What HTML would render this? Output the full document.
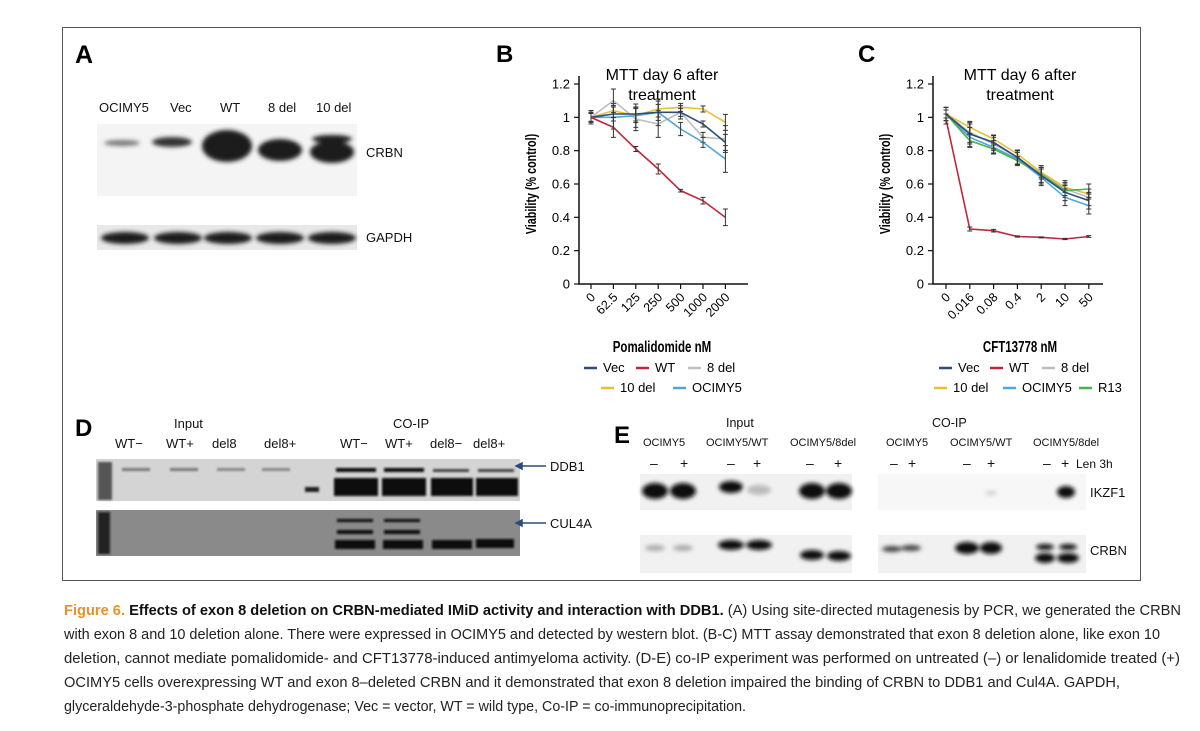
<!DOCTYPE html>
<html><head><meta charset="utf-8"><style>
html,body{margin:0;padding:0;background:#fff;width:1200px;height:731px;overflow:hidden}
svg{display:block;font-family:"Liberation Sans",sans-serif}
</style></head><body>
<svg id="fig" width="1200" height="731" viewBox="0 0 1200 731">
<defs>
<filter id="bl" x="-20%" y="-50%" width="140%" height="200%"><feGaussianBlur stdDeviation="2"/></filter>
<filter id="bl1" x="-20%" y="-50%" width="140%" height="200%"><feGaussianBlur stdDeviation="1"/></filter>
</defs>
<rect x="62.5" y="27.5" width="1078" height="553" fill="none" stroke="#555" stroke-width="1"/>

<!-- Panel A -->
<g>
<text x="75" y="63" font-size="25" font-weight="bold">A</text>
<g font-size="13" fill="#111">
<text x="99" y="112">OCIMY5</text><text x="170" y="112">Vec</text><text x="220" y="112">WT</text><text x="268" y="112">8 del</text><text x="316" y="112">10 del</text>
<text x="366" y="157">CRBN</text><text x="366" y="242">GAPDH</text></g>
<rect x="97" y="124" width="260" height="72" fill="#f4f4f4"/>
<g fill="#1a1a1a" filter="url(#bl)">
<ellipse cx="122" cy="143" rx="18" ry="3" fill="#777"/>
<ellipse cx="172" cy="142" rx="20" ry="5" fill="#333"/>
<ellipse cx="227" cy="146" rx="25" ry="16"/>
<ellipse cx="280" cy="150" rx="22" ry="11"/>
<ellipse cx="332" cy="152" rx="22" ry="11"/>
<ellipse cx="332" cy="139" rx="20" ry="4"/>
</g>
<rect x="97" y="225" width="260" height="25" fill="#e8e8e8"/>
<g fill="#1a1a1a" filter="url(#bl)">
<ellipse cx="125" cy="238" rx="24" ry="6"/><ellipse cx="178" cy="238" rx="24" ry="6"/><ellipse cx="228" cy="238" rx="24" ry="6"/><ellipse cx="280" cy="238" rx="24" ry="6"/><ellipse cx="332" cy="238" rx="24" ry="6"/>
</g>
</g>

<!-- Panel B -->
<text x="496" y="62" font-size="24" font-weight="bold">B</text>
<g id="chartB"></g>
<!-- Panel C -->
<text x="858" y="62" font-size="24" font-weight="bold">C</text>
<g id="chartC"></g>

<!-- Panel D -->
<g>
<text x="75" y="436" font-size="24" font-weight="bold">D</text>
<g font-size="13" fill="#111">
<text x="174" y="428">Input</text><text x="393" y="428">CO-IP</text>
<text x="115" y="448">WT−</text><text x="166" y="448">WT+</text><text x="212" y="448">del8</text><text x="264" y="448">del8+</text>
<text x="340" y="448">WT−</text><text x="385" y="448">WT+</text><text x="430" y="448">del8−</text><text x="473" y="448">del8+</text>
<text x="550" y="471">DDB1</text><text x="550" y="528">CUL4A</text></g>
<rect x="96" y="459" width="424" height="42" fill="#d4d4d4"/>
<rect x="96" y="510" width="424" height="46" fill="#8a8a8a"/>
<g fill="#111" filter="url(#bl1)">
<rect x="98" y="462" width="14" height="38" fill="#555"/>
<rect x="98" y="512" width="12" height="42" fill="#222"/>
<rect x="122" y="468" width="28" height="3" fill="#777"/><rect x="170" y="468" width="28" height="3" fill="#777"/><rect x="217" y="468" width="28" height="3" fill="#888"/><rect x="262" y="468" width="28" height="3" fill="#888"/>
<rect x="305" y="487" width="14" height="5" fill="#222"/>
<rect x="336" y="468" width="40" height="4"/><rect x="384" y="468" width="40" height="4"/><rect x="433" y="469" width="36" height="3" fill="#444"/><rect x="478" y="469" width="36" height="3" fill="#444"/>
<rect x="334" y="478" width="44" height="18"/><rect x="382" y="478" width="44" height="18"/><rect x="431" y="478" width="42" height="18"/><rect x="476" y="478" width="42" height="18"/>
<rect x="337" y="519" width="36" height="3"/><rect x="384" y="519" width="36" height="3"/>
<rect x="337" y="530" width="36" height="4"/><rect x="384" y="530" width="36" height="4"/>
<rect x="335" y="540" width="40" height="9"/><rect x="383" y="540" width="40" height="9"/><rect x="432" y="540" width="40" height="9"/><rect x="476" y="539" width="38" height="9"/>
</g>
<g stroke="#2a4d7a" stroke-width="1.5" fill="#2a4d7a"><line x1="520" y1="466" x2="546" y2="466"/><line x1="520" y1="523" x2="546" y2="523"/>
<polygon points="516,466 522,463 522,469"/><polygon points="516,523 522,520 522,526"/></g>
</g>

<!-- Panel E -->
<g>
<text x="614" y="443" font-size="24" font-weight="bold">E</text>
<g font-size="12.5" fill="#111">
<text x="726" y="427">Input</text><text x="932" y="427">CO-IP</text></g>
<g font-size="11" fill="#111">
<text x="643" y="446">OCIMY5</text><text x="706" y="446">OCIMY5/WT</text><text x="790" y="446">OCIMY5/8del</text>
<text x="886" y="446">OCIMY5</text><text x="950" y="446">OCIMY5/WT</text><text x="1033" y="446">OCIMY5/8del</text></g>
<g font-size="14" fill="#111">
<text x="650" y="468">–</text><text x="680" y="468">+</text><text x="727" y="468">–</text><text x="753" y="468">+</text><text x="806" y="468">–</text><text x="834" y="468">+</text>
<text x="890" y="468">–</text><text x="908" y="468">+</text><text x="963" y="468">–</text><text x="987" y="468">+</text><text x="1043" y="468">–</text><text x="1061" y="468">+</text>
<text x="1076" y="468" font-size="12">Len 3h</text>
<text x="1090" y="497" font-size="13">IKZF1</text><text x="1090" y="555" font-size="13">CRBN</text></g>
<rect x="640" y="474" width="212" height="36" fill="#f1f1f1"/><rect x="878" y="474" width="208" height="36" fill="#f7f7f7"/>
<rect x="640" y="535" width="212" height="38" fill="#f1f1f1"/><rect x="878" y="535" width="208" height="38" fill="#f1f1f1"/>
<g fill="#111" filter="url(#bl)">
<ellipse cx="655" cy="491" rx="13" ry="8"/><ellipse cx="683" cy="491" rx="13" ry="8"/>
<ellipse cx="731" cy="487" rx="12" ry="6"/><ellipse cx="759" cy="490" rx="12" ry="5" fill="#bbb"/>
<ellipse cx="812" cy="491" rx="13" ry="8"/><ellipse cx="839" cy="491" rx="13" ry="8"/>
<ellipse cx="991" cy="493" rx="6" ry="2" fill="#ccc"/><ellipse cx="1066" cy="492" rx="9" ry="6"/>
<ellipse cx="655" cy="548" rx="10" ry="3" fill="#aaa"/><ellipse cx="683" cy="548" rx="10" ry="3" fill="#aaa"/>
<ellipse cx="731" cy="545" rx="13" ry="5"/><ellipse cx="759" cy="545" rx="13" ry="5"/>
<ellipse cx="812" cy="555" rx="12" ry="5"/><ellipse cx="839" cy="556" rx="12" ry="5"/>
<ellipse cx="892" cy="549" rx="10" ry="3" fill="#444"/><ellipse cx="911" cy="548" rx="10" ry="3" fill="#444"/>
<ellipse cx="967" cy="548" rx="12" ry="6"/><ellipse cx="991" cy="548" rx="11" ry="6"/>
<ellipse cx="1045" cy="558" rx="10" ry="5"/><ellipse cx="1068" cy="558" rx="11" ry="5"/>
<ellipse cx="1045" cy="547" rx="9" ry="3"/><ellipse cx="1068" cy="547" rx="9" ry="3"/>
</g>
</g>

<!-- Caption -->
<g font-size="15" fill="#222">
<text x="64" y="615" textLength="1117" lengthAdjust="spacingAndGlyphs"><tspan fill="#e8912a" font-weight="bold">Figure 6.</tspan><tspan font-weight="bold" fill="#111"> Effects of exon 8 deletion on CRBN-mediated IMiD activity and interaction with DDB1.</tspan> (A) Using site-directed mutagenesis by PCR, we generated the CRBN</text>
<text x="64" y="639" textLength="1096" lengthAdjust="spacingAndGlyphs">with exon 8 and 10 deletion alone. There were expressed in OCIMY5 and detected by western blot. (B-C) MTT assay demonstrated that exon 8 deletion alone, like exon 10</text>
<text x="64" y="663" textLength="1116" lengthAdjust="spacingAndGlyphs">deletion, cannot mediate pomalidomide- and CFT13778-induced antimyeloma activity. (D-E) co-IP experiment was performed on untreated (–) or lenalidomide treated (+)</text>
<text x="64" y="687" textLength="1056" lengthAdjust="spacingAndGlyphs">OCIMY5 cells overexpressing WT and exon 8–deleted CRBN and it demonstrated that exon 8 deletion impaired the binding of CRBN to DDB1 and Cul4A. GAPDH,</text>
<text x="64" y="711" textLength="682" lengthAdjust="spacingAndGlyphs">glyceraldehyde-3-phosphate dehydrogenase; Vec = vector, WT = wild type, Co-IP = co-immunoprecipitation.</text>
</g>
</svg>
<script>
const yTicks = [0, 0.2, 0.4, 0.6, 0.8, 1, 1.2];
const yTickLabels = ["0", "0.2", "0.4", "0.6", "0.8", "1", "1.2"];
const catsB = ["0", "62.5", "125", "250", "500", "1000", "2000"];
const catsC = ["0", "0.016", "0.08", "0.4", "2", "10", "50"];
const seriesNamesB = ["Vec", "WT", "8 del", "10 del", "OCIMY5"];
const seriesNamesC = ["Vec", "WT", "8 del", "10 del", "OCIMY5", "R13"];
const bVec = [1.0, 1.02, 1.02, 1.03, 1.03, 0.96, 0.85];
const bWT = [1.0, 0.94, 0.81, 0.69, 0.56, 0.50, 0.40];
const b8del = [1.0, 1.10, 0.99, 0.96, 1.03, 0.88, 0.87];
const b10del = [1.0, 1.04, 1.01, 1.05, 1.06, 1.05, 0.97];
const bOCI = [1.0, 1.0, 1.01, 1.03, 0.93, 0.85, 0.75];
const bErr = [0.04, 0.07, 0.07, 0.08, 0.04, 0.03, 0.08];
const bErrWT = [0.03, 0.06, 0.015, 0.03, 0.008, 0.02, 0.05];
const cVec = [1.02, 0.90, 0.85, 0.76, 0.65, 0.55, 0.50];
const cWT = [0.99, 0.33, 0.32, 0.285, 0.28, 0.27, 0.285];
const c8del = [1.02, 0.91, 0.84, 0.76, 0.66, 0.57, 0.52];
const c10del = [1.02, 0.94, 0.87, 0.78, 0.67, 0.58, 0.54];
const cOCI = [1.02, 0.88, 0.82, 0.75, 0.64, 0.52, 0.47];
const cR13 = [1.02, 0.86, 0.81, 0.74, 0.66, 0.56, 0.57];
const cErr = [0.04, 0.06, 0.04, 0.04, 0.05, 0.05, 0.05];
const cErrWT = [0.03, 0.012, 0.008, 0.004, 0.003, 0.004, 0.005];

const NS = "http://www.w3.org/2000/svg";
const colors = {"Vec":"#2a4d7a","WT":"#c0273a","8 del":"#bdbdbd","10 del":"#e8c038","OCIMY5":"#4fa8d8","R13":"#4caf50"};
function mk(tag, attrs, parent, text){
  const e = document.createElementNS(NS, tag);
  for (const k in attrs) e.setAttribute(k, attrs[k]);
  if (text !== undefined) e.textContent = text;
  parent.appendChild(e); return e;
}
function draw(g, o){
  const yS = v => o.y0 - v * (o.y0 - o.y12) / 1.2;
  const xS = i => o.xFirst + i * o.step;
  mk("text",{x:o.titleX,y:80,"font-size":16,"text-anchor":"middle"},g,"MTT day 6 after");
  mk("text",{x:o.titleX,y:100,"font-size":16,"text-anchor":"middle"},g,"treatment");
  const ax = mk("path",{d:`M${o.ax} ${o.y12-8} V${o.y0} H${o.axEnd}`,stroke:"#111","stroke-width":1.5,fill:"none"},g);
  
  
  yTicks.forEach((t,i)=>{
    mk("line",{x1:o.ax-5,x2:o.ax,y1:yS(t),y2:yS(t),stroke:"#111","stroke-width":1.2},g);
    const l = mk("text",{x:o.ax-9,y:yS(t)+4.5,"font-size":13,"text-anchor":"end"},g,yTickLabels[i]);
    
    
  });
  o.cats.forEach((c,i)=>{
    mk("line",{x1:xS(i),x2:xS(i),y1:o.y0,y2:o.y0+5,stroke:"#111","stroke-width":1.2},g);
    const l = mk("text",{x:xS(i)+5,y:o.y0+14,"font-size":12.5,"text-anchor":"end",transform:`rotate(-45 ${xS(i)+5} ${o.y0+14})`},g,c);
    
    
  });
  const yt = mk("text",{x:0,y:0,"font-size":15,"font-weight":"bold","text-anchor":"middle",transform:`translate(${o.ax-43} ${yS(0.6)}) rotate(-90) scale(0.72 1)`},g,"Viability (% control)");
  
  
  const xt = mk("text",{x:0,y:0,"font-size":16,"font-weight":"bold","text-anchor":"middle",transform:`translate(${o.titleX} 352) scale(0.72 1)`},g,o.xTitle);
  
  
  o.series.forEach((s,k)=>{
    const col = colors[o.names[k]];
    const p = mk("polyline",{points:s.map((v,i)=>xS(i)+","+yS(v)).join(" "),fill:"none",stroke:col,"stroke-width":1.6},g);
    
    
    const errs = o.names[k]==="WT" ? o.errWT : o.err;
    s.forEach((v,i)=>{
      const e = errs[i] * (o.names[k]==="WT" ? 1 : (k%2 ? 0.6 : 1));
      mk("path",{d:`M${xS(i)} ${yS(v+e)} V${yS(v-e)} M${xS(i)-2.5} ${yS(v+e)} h5 M${xS(i)-2.5} ${yS(v-e)} h5`,stroke:"#333","stroke-width":1,fill:"none"},g);
    });
  });
  o.legend.forEach((L)=>{
    mk("line",{x1:L[0],x2:L[0]+13,y1:L[1]-4,y2:L[1]-4,stroke:colors[L[2]],"stroke-width":2.5},g);
    const t = mk("text",{x:L[0]+19,y:L[1],"font-size":13},g,L[2]);
    
    
  });
}
draw(document.getElementById("chartB"),{ax:579,axEnd:748,y0:284,y12:84,xFirst:591,step:22.4,titleX:662,cats:catsB,xTitle:"Pomalidomide nM",
  series:[b8del,b10del,bOCI,bVec,bWT],names:["8 del","10 del","OCIMY5","Vec","WT"],err:bErr,errWT:bErrWT,
  legend:[[584,372,"Vec"],[636,372,"WT"],[688,372,"8 del"],[601,392,"10 del"],[673,392,"OCIMY5"]]});
draw(document.getElementById("chartC"),{ax:933,axEnd:1103,y0:284,y12:84,xFirst:946,step:23.8,titleX:1020,cats:catsC,xTitle:"CFT13778 nM",
  series:[c8del,c10del,cOCI,cR13,cVec,cWT],names:["8 del","10 del","OCIMY5","R13","Vec","WT"],err:cErr,errWT:cErrWT,
  legend:[[939,372,"Vec"],[990,372,"WT"],[1042,372,"8 del"],[934,392,"10 del"],[1003,392,"OCIMY5"],[1079,392,"R13"]]});
</script>
</body></html>
